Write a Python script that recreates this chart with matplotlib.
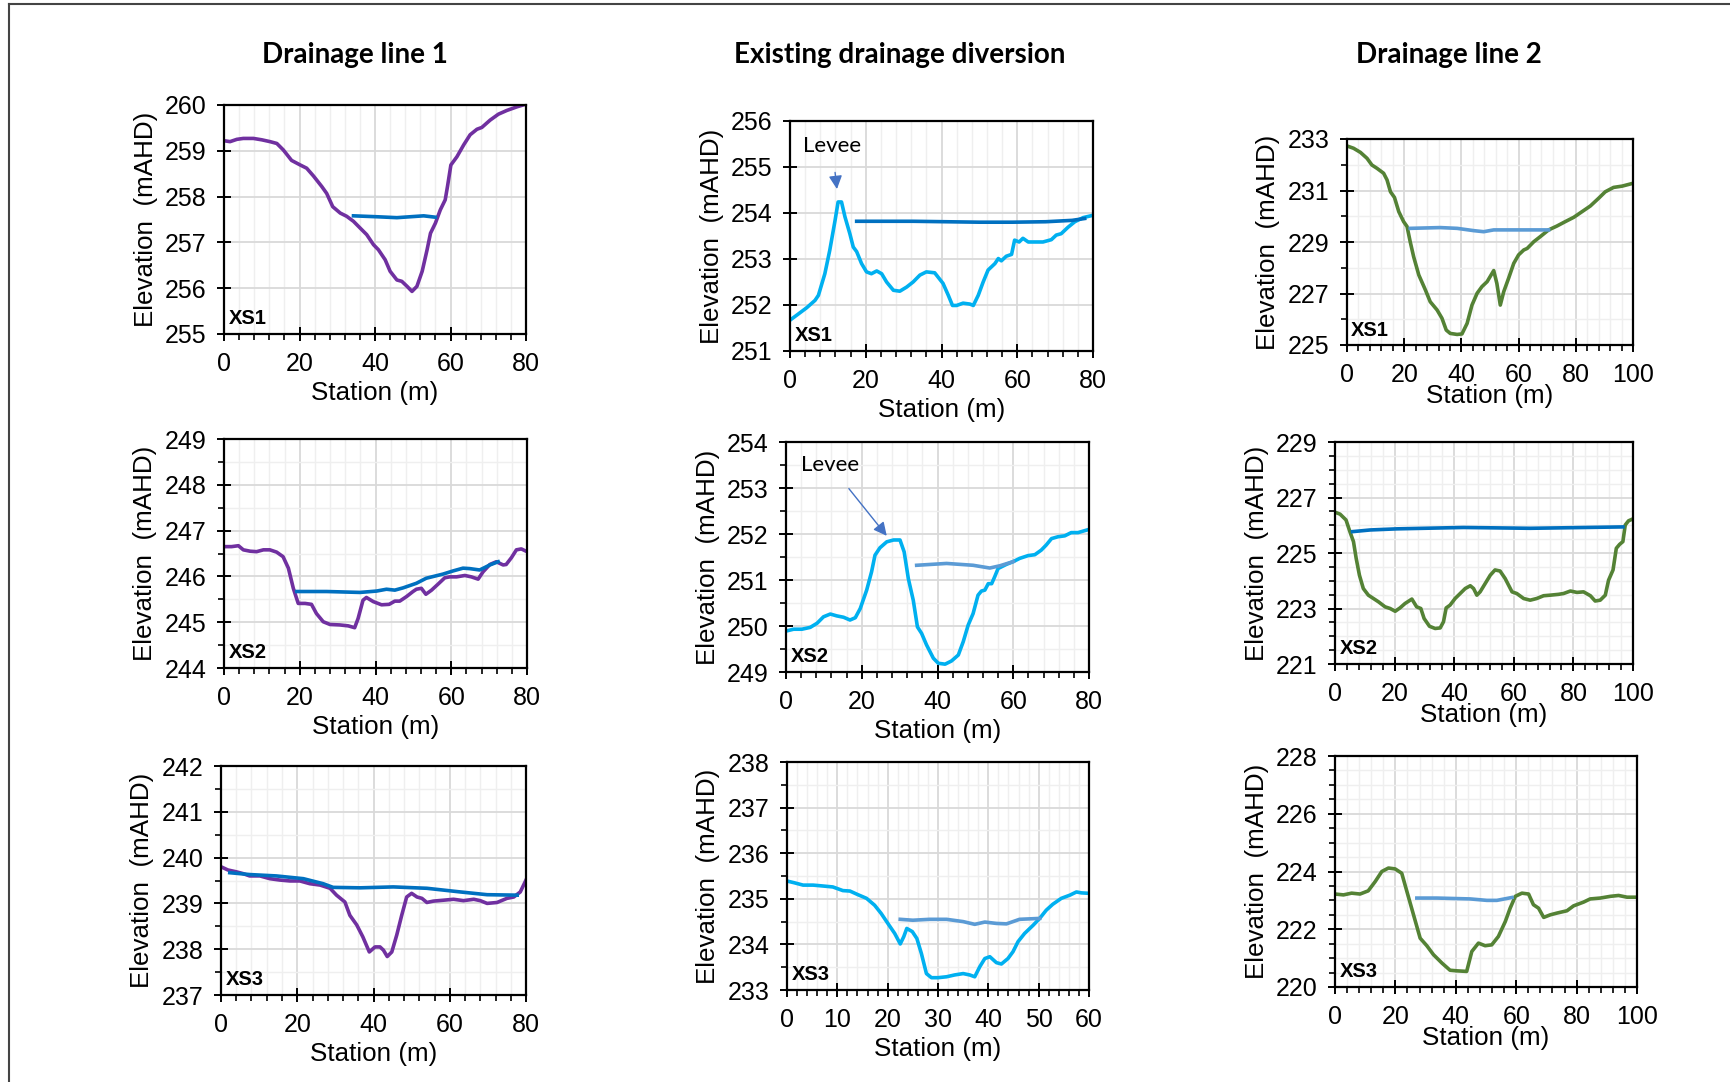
import matplotlib
matplotlib.use("Agg")
import matplotlib.pyplot as plt
from matplotlib.ticker import MultipleLocator, FixedLocator
from matplotlib.lines import Line2D

plt.rcParams['font.family'] = ['Liberation Sans', 'DejaVu Sans']

# ---- colours
PURPLE = "#7030A0"
CYAN = "#00B0F0"
GREEN = "#548235"
WATER_DK = "#0070C0"
WATER_LT = "#5B9BD5"

# ---- Drainage line 1
dl1_xs1_x = [0, 1.6, 3.4, 5.1, 7.8, 10, 12.2, 14, 15.7, 17.9, 20.2, 21.9, 23.7, 25.9, 27.2, 28.8, 30.8, 32.5,
             34.3, 36.1, 37.8, 39.6, 40.9, 42.7, 44.0, 45.8, 47.1, 48.5, 49.8, 51.1, 52.5, 53.8, 54.7, 56.0,
             57.3, 58.6, 59.2, 60.1, 61.7, 63.5, 65.2, 67.0, 68.3, 70.5, 72.7, 74.9, 77.6, 80]
dl1_xs1_z = [259.22, 259.20, 259.25, 259.27, 259.27, 259.24, 259.20, 259.16, 259.02, 258.79, 258.69, 258.62,
             258.45, 258.22, 258.07, 257.78, 257.64, 257.57, 257.46, 257.31, 257.17, 256.95, 256.84, 256.62,
             256.37, 256.18, 256.15, 256.04, 255.93, 256.04, 256.37, 256.84, 257.20, 257.42, 257.71, 257.93,
             258.22, 258.69, 258.87, 259.13, 259.35, 259.47, 259.51, 259.67, 259.80, 259.88, 259.96, 260.02]
dl1_xs1_wx = [34.3, 40.5, 45.8, 52.9, 56.0]
dl1_xs1_wz = [257.58, 257.56, 257.54, 257.58, 257.55]

dl1_xs2_x = [0, 2.0, 3.8, 5.1, 6.9, 8.6, 10.4, 12.1, 13.9, 15.6, 17.0, 18.3, 19.6, 21.4, 23.1, 24.4, 26.2,
             28.0, 30.6, 32.8, 34.5, 35.4, 36.7, 37.6, 39.4, 41.6, 43.6, 45.1, 46.4, 48.2, 49.9, 50.8, 52.1,
             53.3, 54.8, 56.5, 58.3, 59.6, 61.4, 63.6, 65.3, 67.1, 68.4, 70.2, 71.9, 73.7, 74.5, 75.9, 77.2,
             78.5, 80]
dl1_xs2_z = [246.65, 246.65, 246.67, 246.58, 246.55, 246.54, 246.58, 246.58, 246.53, 246.43, 246.18, 245.74,
             245.41, 245.41, 245.39, 245.19, 245.01, 244.95, 244.94, 244.92, 244.88, 245.08, 245.48, 245.54,
             245.45, 245.38, 245.39, 245.46, 245.46, 245.56, 245.67, 245.72, 245.74, 245.61, 245.70, 245.83,
             245.97, 245.99, 245.99, 246.02, 245.99, 245.94, 246.10, 246.26, 246.32, 246.25, 246.26, 246.41,
             246.58, 246.60, 246.54]
dl1_xs2_wx = [19.2, 27.1, 35.9, 40.3, 42.9, 45.1, 47.3, 50.8, 53.4, 57.8, 60.5, 63.1, 64.9, 67.5, 70.2, 72.4]
dl1_xs2_wz = [245.67, 245.67, 245.65, 245.68, 245.72, 245.70, 245.75, 245.85, 245.96, 246.05, 246.12,
              246.18, 246.17, 246.14, 246.25, 246.32]

dl1_xs3_x = [0, 1.8, 4.0, 5.8, 7.5, 10.2, 12.8, 15.4, 18.1, 20.7, 23.3, 26.0, 28.6, 30.3, 32.5, 33.8, 35.6,
             37.2, 38.9, 40.4, 41.7, 42.6, 43.6, 44.8, 46.1, 47.4, 48.7, 50.0, 51.4, 52.7, 54.0, 55.7, 58.4,
             61.0, 63.6, 66.3, 68.0, 69.8, 72.4, 75.0, 76.8, 78.5, 80]
dl1_xs3_z = [239.80, 239.73, 239.69, 239.65, 239.60, 239.60, 239.54, 239.51, 239.49, 239.49, 239.43, 239.40,
             239.33, 239.18, 239.03, 238.74, 238.53, 238.27, 237.94, 238.05, 238.05, 237.98, 237.84, 237.94,
             238.31, 238.74, 239.14, 239.22, 239.14, 239.11, 239.02, 239.05, 239.07, 239.09, 239.06, 239.09,
             239.06, 239.00, 239.02, 239.11, 239.14, 239.25, 239.51]
dl1_xs3_wx = [2.3, 7.5, 14.5, 21.6, 26.8, 29.4, 36.5, 45.2, 54.0, 62.8, 69.8, 77.7]
dl1_xs3_wz = [239.67, 239.63, 239.60, 239.54, 239.43, 239.35, 239.34, 239.36, 239.33, 239.25, 239.19, 239.18]

# ---- Existing drainage diversion
edd_xs1_x = [0, 1.8, 4.4, 6.6, 7.5, 9.2, 10.5, 11.9, 12.7, 13.6, 14.5, 15.8, 16.7, 17.6, 18.9, 20.2, 21.5,
             22.9, 24.2, 25.5, 27.3, 29.0, 30.8, 32.5, 34.3, 36.0, 38.2, 40.4, 41.8, 42.9, 44.0, 45.7, 47.5,
             48.4, 49.7, 51.0, 52.3, 54.1, 55.0, 55.8, 57.1, 58.5, 59.3, 60.5, 61.5, 62.9, 64.6, 66.8, 69.0,
             70.3, 71.6, 73.4, 75.2, 77.4, 80]
edd_xs1_z = [251.67, 251.78, 251.94, 252.10, 252.21, 252.68, 253.19, 253.84, 254.24, 254.24, 253.92, 253.55,
             253.26, 253.16, 252.90, 252.72, 252.68, 252.74, 252.68, 252.50, 252.32, 252.30, 252.39, 252.50,
             252.65, 252.72, 252.70, 252.47, 252.21, 251.99, 251.99, 252.04, 252.02, 251.99, 252.21, 252.50,
             252.76, 252.90, 253.01, 252.96, 253.06, 253.10, 253.41, 253.37, 253.45, 253.37, 253.37, 253.37,
             253.42, 253.52, 253.55, 253.69, 253.81, 253.90, 253.95]
edd_xs1_wx = [17.6, 32.5, 50.0, 58.7, 67.5, 74.5, 77.8]
edd_xs1_wz = [253.82, 253.82, 253.80, 253.80, 253.81, 253.84, 253.88]

edd_xs2_x = [0, 2.0, 4.2, 6.4, 8.2, 9.9, 11.7, 13.4, 15.2, 16.9, 18.3, 19.6, 21.3, 22.6, 23.5, 24.8, 26.6,
             28.4, 30.1, 31.2, 32.3, 33.6, 34.7, 35.8, 37.1, 38.9, 40.2, 42.0, 43.7, 45.5, 46.8, 48.1, 49.4,
             50.7, 51.6, 52.5, 53.4, 54.3, 55.1, 56.0, 58.2, 60.0, 61.7, 63.9, 65.7, 67.4, 68.7, 70.1, 71.8,
             73.6, 75.3, 77.1, 80]
edd_xs2_z = [249.89, 249.93, 249.93, 249.97, 250.06, 250.20, 250.26, 250.22, 250.19, 250.13, 250.18, 250.38,
             250.78, 251.18, 251.54, 251.70, 251.83, 251.87, 251.87, 251.61, 251.03, 250.56, 249.98, 249.84,
             249.59, 249.30, 249.19, 249.17, 249.24, 249.37, 249.66, 250.02, 250.27, 250.67, 250.76, 250.78,
             250.92, 250.92, 251.07, 251.25, 251.34, 251.40, 251.47, 251.53, 251.55, 251.65, 251.76, 251.90,
             251.94, 251.96, 252.03, 252.03, 252.10]
edd_xs2_wx = [34.5, 42.4, 49.4, 53.8, 56.5, 60.0]
edd_xs2_wz = [251.32, 251.36, 251.32, 251.26, 251.31, 251.40]

edd_xs3_x = [0, 1.5, 3.2, 5.2, 7.2, 9.1, 11.1, 12.5, 14.1, 15.8, 17.4, 18.7, 20.1, 21.4, 22.5, 23.2, 23.8,
             24.9, 25.8, 26.7, 27.7, 28.7, 30.0, 31.7, 33.3, 35.0, 36.3, 37.3, 38.3, 39.3, 40.3, 41.6, 42.6,
             43.9, 44.9, 45.9, 47.2, 48.9, 50.2, 51.5, 52.8, 54.5, 56.2, 57.5, 58.5, 60]
edd_xs3_z = [235.39, 235.35, 235.30, 235.30, 235.28, 235.26, 235.18, 235.17, 235.09, 235.01, 234.86, 234.68,
             234.45, 234.24, 234.01, 234.17, 234.35, 234.28, 234.13, 233.80, 233.36, 233.27, 233.27, 233.29,
             233.33, 233.36, 233.33, 233.29, 233.51, 233.69, 233.73, 233.60, 233.57, 233.69, 233.84, 234.06,
             234.24, 234.42, 234.57, 234.75, 234.88, 235.01, 235.08, 235.15, 235.13, 235.12]
edd_xs3_wx = [22.5, 25.0, 28.3, 31.7, 35.0, 37.3, 39.3, 41.6, 43.6, 46.2, 50.2]
edd_xs3_wz = [234.55, 234.53, 234.55, 234.55, 234.50, 234.44, 234.49, 234.46, 234.45, 234.55, 234.57]

# ---- Drainage line 2
dl2_xs1_x = [0, 2.3, 4.7, 7.0, 8.7, 10.5, 12.8, 14.0, 15.2, 16.6, 18.1, 19.8, 21.0, 22.1, 23.3, 25.1, 27.4,
             29.1, 31.5, 33.2, 34.7, 36.1, 38.5, 40.2, 42.0, 43.7, 45.5, 47.2, 49.0, 51.3, 52.4, 53.6, 54.8,
             56.5, 58.3, 60.0, 61.8, 63.0, 65.3, 67.6, 70.5, 73.4, 76.3, 79.3, 82.2, 85.1, 88.0, 90.3, 93.2,
             96.2, 100]
dl2_xs1_z = [232.73, 232.64, 232.48, 232.25, 231.99, 231.86, 231.67, 231.41, 230.95, 230.73, 230.18, 229.79,
             229.60, 229.01, 228.43, 227.72, 227.14, 226.68, 226.36, 226.04, 225.58, 225.45, 225.41, 225.43,
             225.84, 226.55, 227.01, 227.27, 227.46, 227.89, 227.39, 226.55, 227.07, 227.59, 228.17, 228.50,
             228.69, 228.75, 229.01, 229.21, 229.47, 229.62, 229.79, 229.96, 230.18, 230.40, 230.70, 230.95,
             231.12, 231.17, 231.28]
dl2_xs1_wx = [22.1, 32.6, 38.5, 44.4, 47.8, 51.3, 61.8, 70.5]
dl2_xs1_wz = [229.53, 229.56, 229.53, 229.44, 229.40, 229.47, 229.47, 229.47]

dl2_xs2_x = [0, 1.7, 3.7, 5.0, 6.2, 7.1, 8.2, 9.5, 11.2, 12.9, 14.6, 16.8, 18.5, 20.2, 21.8, 23.5, 25.8,
             27.4, 28.8, 29.9, 31.7, 33.6, 35.3, 36.4, 37.3, 38.6, 40.3, 42.0, 43.7, 45.4, 46.5, 47.6, 48.7,
             50.4, 52.1, 53.7, 55.4, 57.1, 59.4, 61.0, 63.3, 65.5, 67.7, 70.0, 72.2, 75.0, 76.7, 79.0, 81.2,
             83.4, 85.7, 87.3, 89.0, 90.7, 91.8, 93.3, 94.4, 95.5, 96.6, 97.4, 98.5, 100]
dl2_xs2_z = [226.47, 226.40, 226.19, 225.77, 225.41, 224.81, 224.20, 223.72, 223.48, 223.36, 223.24, 223.06,
             223.00, 222.90, 223.02, 223.18, 223.34, 223.06, 223.00, 222.64, 222.36, 222.28, 222.30, 222.52,
             223.02, 223.12, 223.36, 223.54, 223.72, 223.82, 223.72, 223.48, 223.60, 223.90, 224.20, 224.39,
             224.35, 224.08, 223.60, 223.54, 223.36, 223.30, 223.36, 223.46, 223.48, 223.51, 223.54, 223.63,
             223.58, 223.60, 223.46, 223.27, 223.30, 223.48, 224.02, 224.39, 225.17, 225.31, 225.41, 226.01,
             226.16, 226.23]
dl2_xs2_wx = [5.9, 11.8, 20.7, 43.1, 65.5, 96.6]
dl2_xs2_wz = [225.77, 225.83, 225.87, 225.92, 225.89, 225.94]

dl2_xs3_x = [0, 2.8, 5.5, 8.3, 11.0, 13.3, 15.5, 17.7, 19.9, 22.1, 23.8, 26.0, 28.2, 30.4, 32.6, 35.4, 38.1,
             40.3, 43.6, 45.3, 47.5, 49.7, 51.9, 54.1, 56.4, 58.0, 59.7, 61.9, 64.1, 65.7, 67.4, 69.1, 71.3,
             73.5, 76.8, 79.0, 82.3, 84.5, 87.8, 91.2, 93.9, 96.7, 100]
dl2_xs3_z = [223.22, 223.19, 223.25, 223.22, 223.33, 223.65, 224.00, 224.12, 224.09, 223.94, 223.31, 222.50,
             221.69, 221.43, 221.12, 220.83, 220.58, 220.56, 220.54, 221.23, 221.52, 221.43, 221.46, 221.75,
             222.27, 222.73, 223.14, 223.25, 223.22, 222.85, 222.73, 222.41, 222.50, 222.56, 222.64, 222.81,
             222.94, 223.05, 223.08, 223.14, 223.17, 223.11, 223.11]
dl2_xs3_wx = [27.1, 33.7, 44.8, 50.3, 53.6, 58.6]
dl2_xs3_wz = [223.08, 223.08, 223.05, 223.00, 223.00, 223.10]

column_titles = ["Drainage line 1", "Existing drainage diversion", "Drainage line 2"]
dl2_xs1_yticks = [225, 227, 229, 231, 233]
dl2_xs2_yticks = [221, 223, 225, 227, 229]
dl2_xs3_yticks = [220, 222, 224, 226, 228]

W, H = 1730, 1082
fig = plt.figure(figsize=(W / 100, H / 100), dpi=100)


def make_ax(l, t, r, b):
    return fig.add_axes([l / W, 1 - b / H, (r - l) / W, (b - t) / H])


def style(ax, xlim, xmaj, xmin, ylim, yticks, ymin, label, xlabelpad=4):
    ax.set_xlim(*xlim)
    ax.set_ylim(*ylim)
    ax.xaxis.set_major_locator(MultipleLocator(xmaj))
    ax.xaxis.set_minor_locator(MultipleLocator(xmin))
    ax.yaxis.set_major_locator(FixedLocator(yticks))
    if ymin:
        ax.yaxis.set_minor_locator(MultipleLocator(ymin))
        ax.grid(True, which="minor", axis="y", color="#efefef", lw=1.0)
    ax.grid(True, which="minor", axis="x", color="#efefef", lw=1.0)
    ax.grid(True, which="major", color="#d9d9d9", lw=1.3)
    ax.set_axisbelow(True)
    for s in ax.spines.values():
        s.set_linewidth(1.6)
        s.set_color("black")
    ax.tick_params(which="major", direction="inout", length=9.5, width=1.4,
                   labelsize=18, pad=8)
    ax.tick_params(which="minor", direction="out", length=4, width=1.2)
    ax.set_xlabel("Station (m)", fontsize=18.7, labelpad=xlabelpad)
    ax.set_ylabel("Elevation  (mAHD)", fontsize=18.7, labelpad=5)
    ax.text(0.015, 0.025, label, transform=ax.transAxes, fontsize=14.5,
            fontweight="bold", ha="left", va="bottom")


def yr(a, b, step):
    out = []
    v = a
    while v <= b + 1e-9:
        out.append(v)
        v += step
    return out


LW = 2.6

# column 1
ax = make_ax(224, 105, 526, 334)
ax.plot(dl1_xs1_x, dl1_xs1_z, color=PURPLE, lw=LW)
ax.plot(dl1_xs1_wx, dl1_xs1_wz, color=WATER_DK, lw=LW)
style(ax, (0, 80), 20, 4, (255, 260), yr(255, 260, 1), None, "XS1")

ax = make_ax(224, 439, 527, 668)
ax.plot(dl1_xs2_x, dl1_xs2_z, color=PURPLE, lw=LW)
ax.plot(dl1_xs2_wx, dl1_xs2_wz, color=WATER_DK, lw=LW)
style(ax, (0, 80), 20, 4, (244, 249), yr(244, 249, 1), 0.5, "XS2")

ax = make_ax(221, 766, 526, 995)
ax.plot(dl1_xs3_x, dl1_xs3_z, color=PURPLE, lw=LW)
ax.plot(dl1_xs3_wx, dl1_xs3_wz, color=WATER_DK, lw=LW)
style(ax, (0, 80), 20, 4, (237, 242), yr(237, 242, 1), 0.5, "XS3")

# column 2
ax = make_ax(790, 121, 1093, 351)
ax.plot(edd_xs1_x, edd_xs1_z, color=CYAN, lw=LW)
ax.plot(edd_xs1_wx, edd_xs1_wz, color=WATER_DK, lw=LW)
style(ax, (0, 80), 20, 4, (251, 256), yr(251, 256, 1), None, "XS1")
ax.annotate("Levee", xy=(12.4, 254.52), xytext=(11.1, 255.46), ha="center", va="center",
            fontsize=16, family="Lato",
            arrowprops=dict(arrowstyle="-|>", color="#4472C4", lw=1.0, mutation_scale=20,
                            shrinkA=10, shrinkB=0))

ax = make_ax(786, 442, 1089, 672)
ax.plot(edd_xs2_x, edd_xs2_z, color=CYAN, lw=LW)
ax.plot(edd_xs2_wx, edd_xs2_wz, color=WATER_LT, lw=LW)
style(ax, (0, 80), 20, 4, (249, 254), yr(249, 254, 1), 0.5, "XS2")
ax.annotate("Levee", xy=(26.6, 251.96), xytext=(11.6, 253.5), ha="center", va="center",
            fontsize=16, family="Lato",
            arrowprops=dict(arrowstyle="-|>", color="#4472C4", lw=1.0, mutation_scale=20,
                            shrinkA=10, shrinkB=0))

ax = make_ax(787, 762, 1089, 990)
ax.plot(edd_xs3_x, edd_xs3_z, color=CYAN, lw=LW)
ax.plot(edd_xs3_wx, edd_xs3_wz, color=WATER_LT, lw=LW)
style(ax, (0, 60), 10, 2, (233, 238), yr(233, 238, 1), 0.5, "XS3")

# column 3
ax = make_ax(1347, 139, 1633, 345)
ax.plot(dl2_xs1_x, dl2_xs1_z, color=GREEN, lw=LW)
ax.plot(dl2_xs1_wx, dl2_xs1_wz, color=WATER_LT, lw=LW)
style(ax, (0, 100), 20, 4, (225, 233), dl2_xs1_yticks, 1, "XS1", xlabelpad=-2)

ax = make_ax(1335, 442, 1633, 664)
ax.plot(dl2_xs2_x, dl2_xs2_z, color=GREEN, lw=LW)
ax.plot(dl2_xs2_wx, dl2_xs2_wz, color=WATER_DK, lw=LW)
style(ax, (0, 100), 20, 4, (221, 229), dl2_xs2_yticks, 0.5, "XS2", xlabelpad=-2)

ax = make_ax(1335, 756, 1637, 987)
ax.plot(dl2_xs3_x, dl2_xs3_z, color=GREEN, lw=LW)
ax.plot(dl2_xs3_wx, dl2_xs3_wz, color=WATER_LT, lw=LW)
style(ax, (0, 100), 20, 4, (220, 228), dl2_xs3_yticks, 0.5, "XS3", xlabelpad=-2)

# column titles
for title, cx in zip(column_titles, [355, 900, 1449]):
    fig.text(cx / W, 1 - 55 / H, title, ha="center", va="center", fontsize=20,
             fontweight="bold", family="Lato")

# outer frame (top and left edges visible)
fig.add_artist(Line2D([9 / W, 9 / W], [0, 1 - 4 / H], color="#444444", lw=1.5))
fig.add_artist(Line2D([9 / W, 1], [1 - 4 / H, 1 - 4 / H], color="#444444", lw=1.5))

fig.savefig("out.png", dpi=100)
